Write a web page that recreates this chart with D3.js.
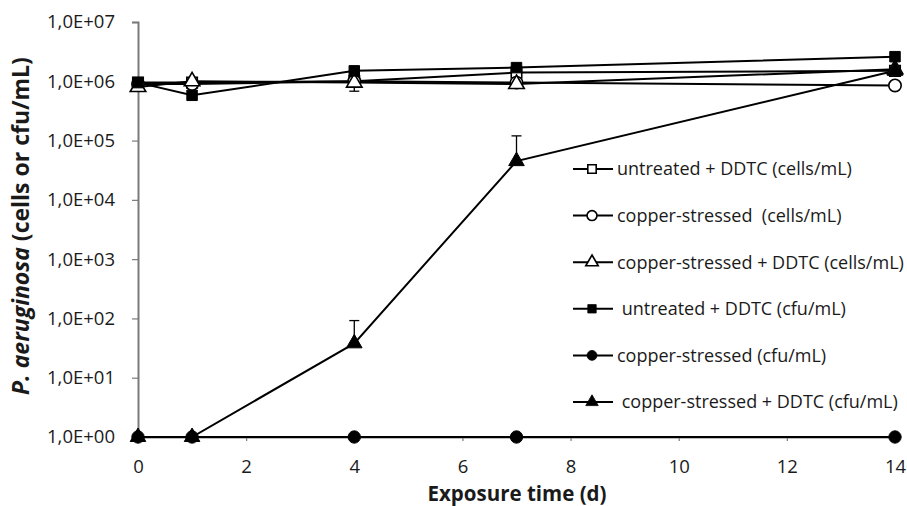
<!DOCTYPE html>
<html>
<head>
<meta charset="utf-8">
<script src="https://cdn.jsdelivr.net/npm/d3@7"></script>
<style>
  body { margin: 0; background: #fff; }
  svg { display: block; }
  text { font-family: 'Open Sans', sans-serif; fill: #1a1a1a; }
</style>
</head>
<body>
<div id="chart"></div>
<script>
// exposure days
const days = [0, 1, 4, 7, 14];

// cell counts (cells/mL) and plate counts (cfu/mL)
const untreatedDdtcCells = [9.5e5, 9.5e5, 1.0e6, 1.4e6, 1.5e6];
const copperCells = [9.0e5, 9.0e5, 1.0e6, 9.5e5, 8.5e5];
const copperDdtcCells = [8.0e5, 1.0e6, 9.5e5, 9.0e5, 1.6e6];
const untreatedDdtcCfu = [9.5e5, 5.8e5, 1.5e6, 1.7e6, 2.6e6];
const copperCfu = [1, 1, 1, 1, 1];
const copperDdtcCfu = [1, 1, 38, 4.5e4, 1.5e6];

// upper / lower ends of the drawn error bars (null = none)
const copperDdtcCfuErrHi = [null, null, 92, 1.2e5, null];
const copperDdtcCellsErrLo = [null, null, 6.8e5, null, null];

const legendLabels = [
  'untreated + DDTC (cells/mL)',
  'copper-stressed  (cells/mL)',
  'copper-stressed + DDTC (cells/mL)',
  ' untreated + DDTC (cfu/mL)',
  'copper-stressed (cfu/mL)',
  ' copper-stressed + DDTC (cfu/mL)'
];
const markerShapes = ['square', 'circle', 'triangle', 'square', 'circle', 'triangle'];
const markerFilled = [false, false, false, true, true, true];

const xTicks = [0, 2, 4, 6, 8, 10, 12, 14];
const yTicks = [1, 10, 100, 1e3, 1e4, 1e5, 1e6, 1e7];

const width = 907, height = 506;
const svg = d3.select('#chart').append('svg')
  .attr('width', width).attr('height', height);

const x = d3.scaleLinear().domain([0, 14]).range([138, 895]);
const y = d3.scaleLog().domain([1, 1e7]).range([437, 22]);

const allSeries = [untreatedDdtcCells, copperCells, copperDdtcCells,
                   untreatedDdtcCfu, copperCfu, copperDdtcCfu];

// axes
const yAxis = svg.append('g')
  .attr('transform', 'translate(' + x(0) + ',0)')
  .call(d3.axisLeft(y).tickValues(yTicks).tickSize(6).tickPadding(17)
    .tickFormat(d => '1,0E+' + String(Math.round(Math.log10(d))).padStart(2, '0')));
yAxis.select('.domain').attr('stroke', '#7a7a7a').attr('stroke-width', 2);
yAxis.selectAll('.tick line').attr('stroke', '#7a7a7a').attr('stroke-width', 1.2);
yAxis.selectAll('.tick text').attr('font-size', '18.5px').attr('fill', '#1a1a1a')
  .attr('font-family', "'Open Sans', sans-serif");

const xAxis = svg.append('g')
  .attr('transform', 'translate(0,' + y(1) + ')')
  .call(d3.axisBottom(x).tickValues(xTicks).tickSize(4).tickPadding(19));
xAxis.select('.domain').attr('stroke', '#7a7a7a').attr('stroke-width', 2);
xAxis.selectAll('.tick line').attr('stroke', '#7a7a7a').attr('stroke-width', 1.2);
xAxis.selectAll('.tick text').attr('font-size', '18.5px').attr('fill', '#1a1a1a')
  .attr('font-family', "'Open Sans', sans-serif");

// axis titles
svg.append('text')
  .attr('x', 517).attr('y', 501)
  .attr('text-anchor', 'middle')
  .attr('font-size', '20.5px').attr('font-weight', 'bold')
  .text('Exposure time (d)');

const yTitle = svg.append('text')
  .attr('transform', 'translate(29,226) rotate(-90)')
  .attr('text-anchor', 'middle')
  .attr('font-size', '23px').attr('font-weight', 'bold');
yTitle.append('tspan').attr('font-style', 'italic').text('P. aeruginosa');
yTitle.append('tspan').text(' (cells or cfu/mL)');

// marker drawing
const symbolFor = {
  square: d3.symbol().type(d3.symbolSquare).size(110),
  circle: d3.symbol().type(d3.symbolCircle).size(120),
  triangle: d3.symbol().type(d3.symbolTriangle).size(105)
};

function drawMarker(g, shape, filled, cx, cy, scale) {
  g.append('path')
    .attr('d', symbolFor[shape]())
    .attr('transform', 'translate(' + cx + ',' + cy + ') scale(' + (scale || 1) + ')')
    .attr('fill', filled ? '#000' : '#fff')
    .attr('stroke', '#000')
    .attr('stroke-width', filled ? 1 : 1.6 / (scale || 1));
}

const line = d3.line()
  .x((d, i) => x(days[i]))
  .y(d => y(d));

const plot = svg.append('g');

// error bars
function errorBars(ends, vals) {
  ends.forEach((e, i) => {
    if (e == null) return;
    const xi = x(days[i]);
    plot.append('line')
      .attr('x1', xi).attr('x2', xi)
      .attr('y1', y(vals[i])).attr('y2', y(e))
      .attr('stroke', '#000').attr('stroke-width', 1.3);
    plot.append('line')
      .attr('x1', xi - 5).attr('x2', xi + 5)
      .attr('y1', y(e)).attr('y2', y(e))
      .attr('stroke', '#000').attr('stroke-width', 1.3);
  });
}
errorBars(copperDdtcCfuErrHi, copperDdtcCfu);
errorBars(copperDdtcCellsErrLo, copperDdtcCells);

allSeries.forEach((vals, s) => {
  plot.append('path')
    .datum(vals)
    .attr('d', line)
    .attr('fill', 'none')
    .attr('stroke', '#000')
    .attr('stroke-width', 2);
});
allSeries.forEach((vals, s) => {
  vals.forEach((v, i) => {
    drawMarker(plot, markerShapes[s], markerFilled[s], x(days[i]), y(v));
  });
});

// legend
const legend = svg.append('g');
const legendTop = 169, legendStep = 46.6;
legendLabels.forEach((lab, i) => {
  const ly = legendTop + i * legendStep;
  legend.append('line')
    .attr('x1', 573).attr('x2', 613)
    .attr('y1', ly).attr('y2', ly)
    .attr('stroke', '#000').attr('stroke-width', 2);
  drawMarker(legend, markerShapes[i], markerFilled[i], 592, ly, 0.8);
  legend.append('text')
    .attr('x', 617).attr('y', ly)
    .attr('dy', '0.35em')
    .attr('font-size', '18px')
    .style('white-space', 'pre')
    .text(lab);
});
</script>
</body>
</html>
